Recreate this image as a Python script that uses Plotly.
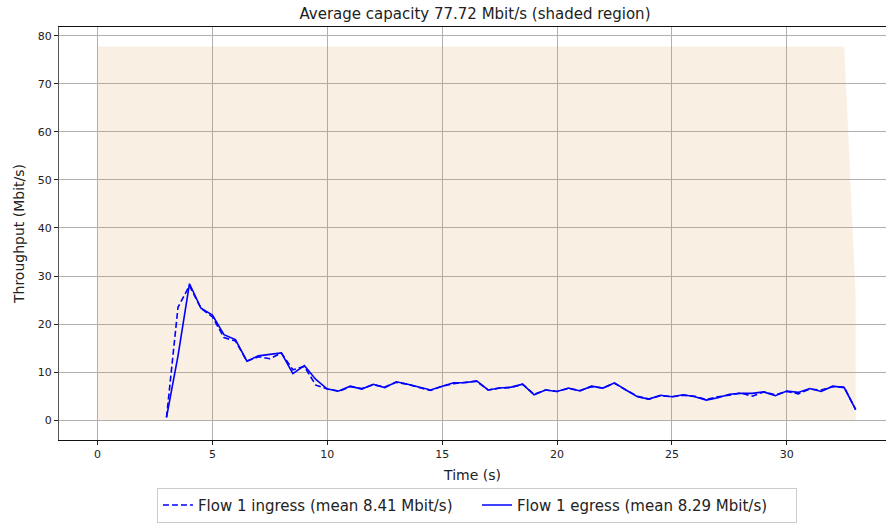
import plotly.graph_objects as go

title_text = "Average capacity 77.72 Mbit/s (shaded region)"
capacity_t = [0.0, 32.5, 33.0]
capacity_v = [77.72, 77.72, 26.0]

time_s = [3.0 + 0.5 * i for i in range(61)]
egress = [0.6, 13.4, 28.4, 23.3, 21.9, 17.8, 16.8, 12.3, 13.4, 13.7,
          14.0, 9.7, 11.4, 8.5, 6.5, 6.1, 7.1, 6.5, 7.5, 6.8,
          8.0, 7.5, 6.9, 6.3, 7.1, 7.8, 7.8, 8.2, 6.3, 6.7,
          6.9, 7.5, 5.3, 6.3, 6.0, 6.7, 6.1, 7.1, 6.7, 7.8,
          6.3, 4.9, 4.4, 5.2, 4.9, 5.3, 4.9, 4.2, 4.7, 5.4,
          5.6, 5.6, 5.9, 5.1, 6.1, 5.8, 6.6, 6.0, 7.1, 6.8,
          2.2]
ingress = [0.6, 23.5, 28.0, 23.3, 21.5, 17.2, 16.5, 12.3, 13.2, 12.8,
           14.0, 10.5, 11.2, 7.3, 6.5, 6.0, 7.0, 6.6, 7.4, 6.9,
           7.9, 7.5, 6.8, 6.2, 7.1, 7.6, 7.9, 8.1, 6.3, 6.7,
           6.8, 7.5, 5.4, 6.3, 6.0, 6.6, 6.2, 7.0, 6.7, 7.7,
           6.3, 5.0, 4.4, 5.1, 4.9, 5.2, 5.0, 4.3, 4.9, 5.2,
           5.7, 5.0, 5.9, 5.3, 6.0, 5.5, 6.5, 6.3, 7.0, 6.9,
           2.2]
ingress_name = "Flow 1 ingress (mean 8.41 Mbit/s)"
egress_name = "Flow 1 egress (mean 8.29 Mbit/s)"

font_family = "DejaVu Sans"
text_color = "#222222"

fig = go.Figure()
fig.add_trace(go.Scatter(
    x=capacity_t, y=capacity_v, mode="lines", fill="tozeroy",
    line=dict(width=0, color="rgba(0,0,0,0)"),
    fillcolor="rgba(215,150,70,0.15)", showlegend=False, hoverinfo="skip"))
fig.add_trace(go.Scatter(
    x=time_s, y=ingress, mode="lines", name=ingress_name,
    line=dict(color="#0000ff", width=1.6, dash="6px,3px")))
fig.add_trace(go.Scatter(
    x=time_s, y=egress, mode="lines", name=egress_name,
    line=dict(color="#0000ff", width=1.6)))

axis_common = dict(
    showgrid=True, gridcolor="#b0b0b0", gridwidth=1,
    showline=True, linewidth=1, mirror=True,
    ticks="outside", ticklen=4, tickcolor="#222222",
    tickfont=dict(family=font_family, size=11, color=text_color),
    zeroline=False, automargin=False,
)

fig.update_layout(
    width=886, height=523,
    margin=dict(l=59, r=0, t=27, b=81),
    paper_bgcolor="white", plot_bgcolor="white",
    font=dict(family=font_family, color=text_color),
    title=dict(text=title_text, xref="paper", x=0.503, xanchor="center",
               y=1 - 14 / 523, yanchor="middle",
               font=dict(family=font_family, size=15, color=text_color)),
    xaxis=dict(range=[-1.68, 34.32], tickvals=[0, 5, 10, 15, 20, 25, 30],
               linecolor="#111111",
               title=dict(text="Time (s)", font=dict(size=14), standoff=9),
               **axis_common),
    yaxis=dict(range=[-4.1, 81.8], tickvals=[0, 10, 20, 30, 40, 50, 60, 70, 80],
               linecolor="#555555",
               title=dict(text="Throughput (Mbit/s)", font=dict(size=14), standoff=9),
               **axis_common),
    legend=dict(orientation="h", x=0.5054, xanchor="center",
                y=-(490 - 442) / 415, yanchor="top",
                bordercolor="#cccccc", borderwidth=1,
                entrywidth=274, entrywidthmode="pixels",
                font=dict(family=font_family, size=15, color=text_color)),
    showlegend=True,
)

fig.write_html("out.html", config={"displayModeBar": False},
               post_script="document.body.style.margin='0';document.body.style.padding='0';")
